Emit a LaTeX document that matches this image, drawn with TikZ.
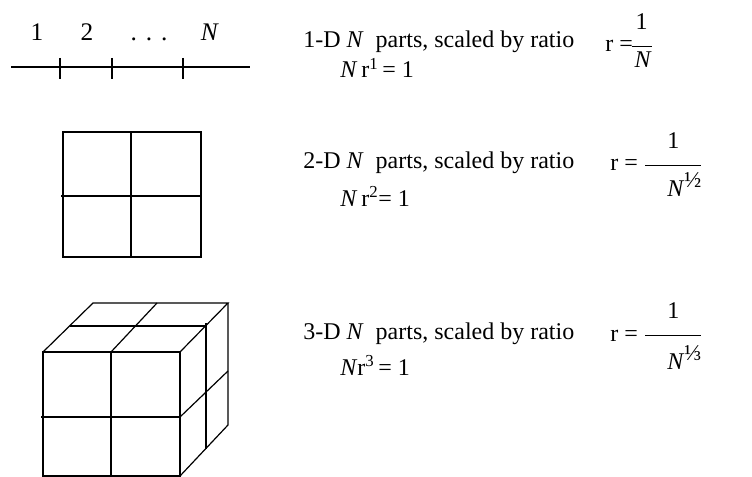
\documentclass[tikz,border=0pt]{standalone}
\usepackage{amsmath}
\usepackage{fontspec}
\setmainfont{Liberation Serif}
\usepackage{tikz}

% fraction of the ratio, bar as wide as the box
\newcommand{\ratiofrac}[4][21pt]{$\displaystyle\frac{\makebox[#2]{#3}\rule[-10pt]{0pt}{0pt}}{\rule{0pt}{#1}\makebox[#2][r]{#4}}$}
\newcommand{\supfrac}[1]{\raisebox{0.8ex}{\fontsize{17}{17}\selectfont #1}}

\tikzset{
  txt/.style={anchor=base west, inner sep=0pt, font=\fontsize{18}{22}\selectfont},
  num/.style={anchor=base, inner sep=0pt, font=\fontsize{19}{22}\selectfont},
  edge/.style={line width=0.9pt, black}
}

\begin{document}
\begin{tikzpicture}[x=0.75pt, y=-0.75pt]
\useasboundingbox (0,0) rectangle (752,477);

% 1-D segment
\draw[edge] (11,67) -- (250,67);
\foreach \tx in {60,112,183}
  \draw[edge] (\tx,58) -- (\tx,79);
\node[num] (n1) at (37,41) {1};
\node[num] (n2) at (87,41) {2};
\node[num] (n3) at (149,41) {.\hspace{0.35em}.\hspace{0.35em}.};
\node[num] (n4) at (210,41) {\textit{N}};

% 2-D square
\draw[edge] (63,132) rectangle (201,257);
\draw[edge] (131,132) -- (131,257);
\draw[edge] (61,196) -- (201,196);

% 3-D cube
\coordinate (fa) at (43,352);
\coordinate (fb) at (180,352);
\coordinate (fc) at (180,476);
\coordinate (fd) at (43,476);
\coordinate (ba) at (93,303);
\coordinate (bb) at (228,303);
\coordinate (bc) at (228,425);
\draw[edge] (fa) rectangle (fc);
\draw[edge] (111,352) -- (111,476);
\draw[edge] (41,417) -- (180,417);
\draw[edge] (fa) -- (ba) -- (bb) -- (fb);
\draw[edge] (bb) -- (bc) -- (fc);
\draw[edge] (111,352) -- (157,303);
\draw[edge] (70,326) -- (206,326);
\draw[edge] (206,323) -- (206,449);
\draw[edge] (180,417) -- (228,371);

% texts
\node[txt] (t1) at (303,48) {1-D \textit{N}\ \ parts, scaled by ratio};
\node[txt] (e1) at (340,78) {\textit{N}\,r\textsuperscript{1}\,= 1};
\node[txt] (r1) at (605,52) {r =\kern-2pt\ratiofrac[12pt]{15pt}{1}{\textit{N}}};

\node[txt] (t2) at (303,169) {2-D \textit{N}\ \ parts, scaled by ratio};
\node[txt] (e2) at (340,206) {\textit{N}\,r\textsuperscript{2}= 1};
\node[txt] (r2) at (610,171) {r = \ratiofrac{42pt}{1}{\textit{N}\supfrac{½}}};

\node[txt] (t3) at (303,339) {3-D \textit{N}\ \ parts, scaled by ratio};
\node[txt] (e3) at (340,375) {\textit{N}r\textsuperscript{3}\,= 1};
\node[txt] (r3) at (610,341) {r = \ratiofrac[23pt]{42pt}{1}{\textit{N}\supfrac{⅓}}};
\end{tikzpicture}
\end{document}
